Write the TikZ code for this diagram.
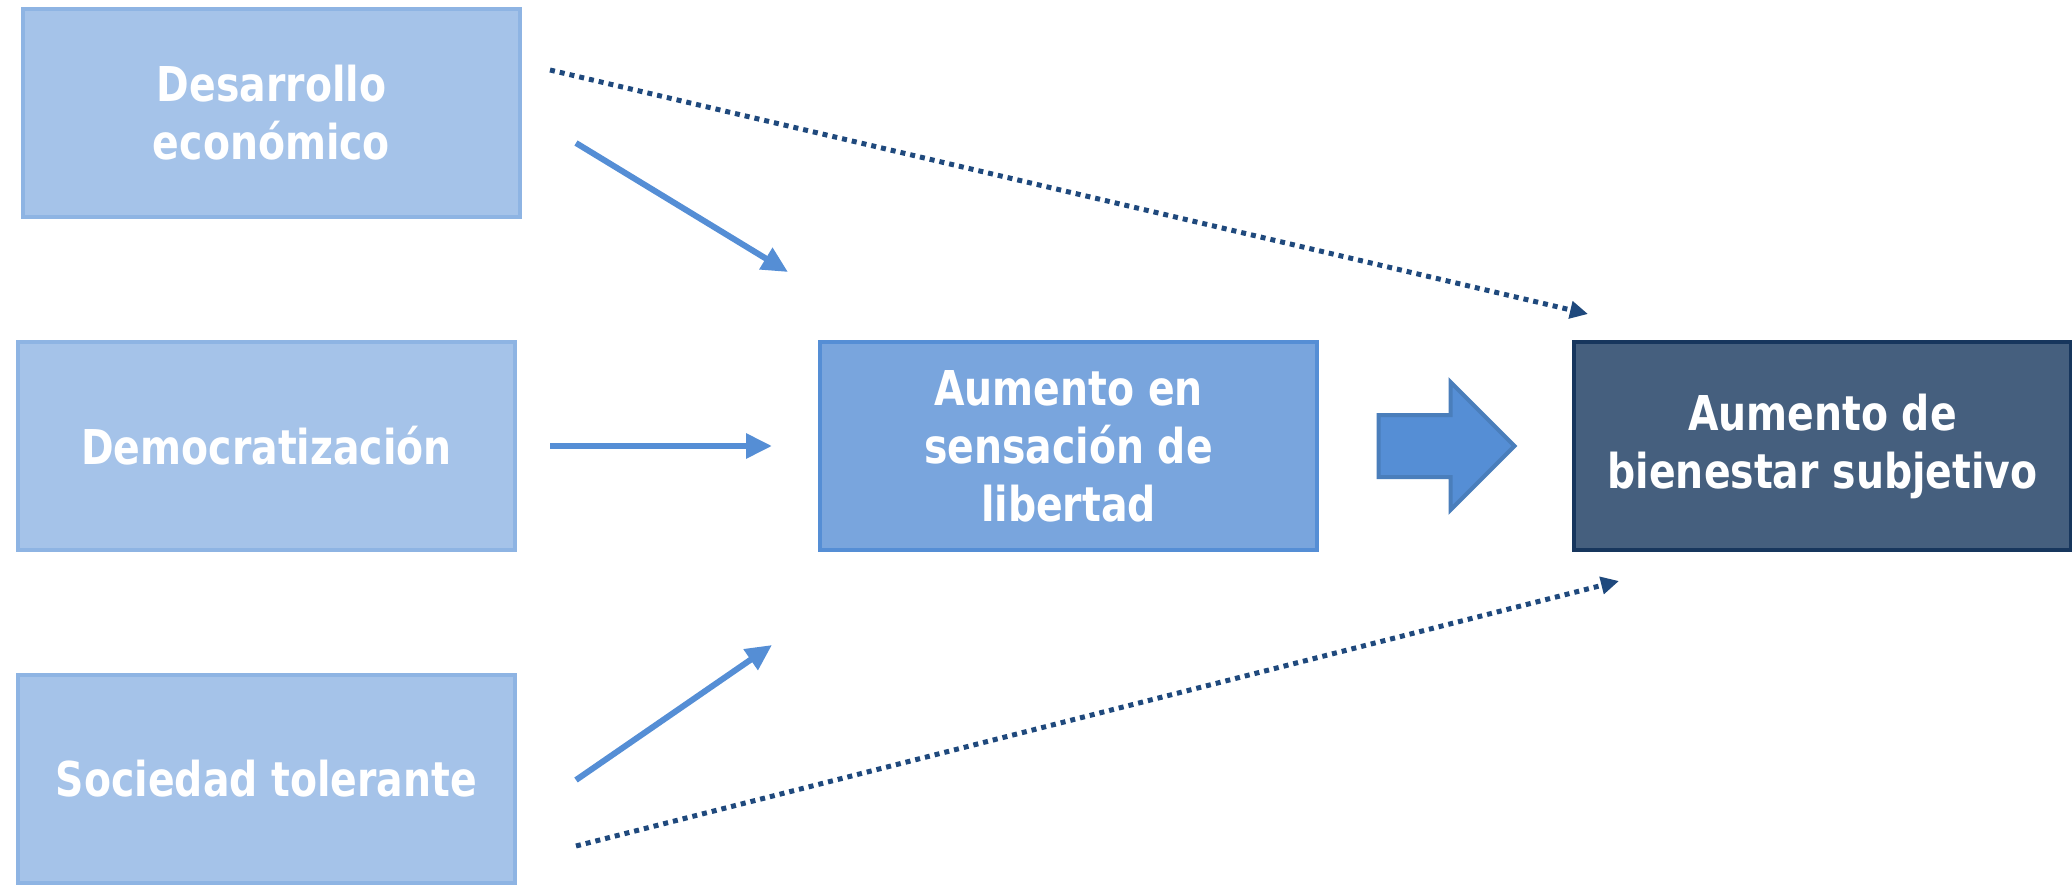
\documentclass[tikz,border=0pt]{standalone}
\usepackage{fontspec}
\setmainfont{DejaVu Sans}[FakeStretch=0.82]
\usepackage{tikz}
\usetikzlibrary{calc,arrows.meta,shapes.arrows}
\definecolor{lightfill}{HTML}{A5C3E9}
\definecolor{lightline}{HTML}{8EB4E3}
\definecolor{midfill}{HTML}{79A5DD}
\definecolor{midline}{HTML}{558ED5}
\definecolor{darkfill}{HTML}{455F7E}
\definecolor{darkline}{HTML}{17365D}
\definecolor{dotline}{HTML}{1F497D}
\definecolor{bigline}{HTML}{4A7EBB}
\tikzset{
  box/.style      = {shape=rectangle, draw, line width=4pt, align=center,
                     minimum width=497pt, minimum height=208pt,
                     text=white, font=\bfseries\fontsize{48}{58}\selectfont},
  cause/.style    = {box, fill=lightfill, draw=lightline},
  middle/.style   = {box, fill=midfill, draw=midline},
  result/.style   = {box, fill=darkfill, draw=darkline},
  push/.style     = {draw=midline, line width=6pt,
                     -{Triangle[length=26pt,width=24pt]}},
  direct/.style   = {draw=dotline, line width=5pt, dash pattern=on 5pt off 5pt,
                     -{Triangle[length=18pt,width=17pt]}},
}
\begin{document}
\begin{tikzpicture}[x=1pt, y=-1pt]
  \clip (0,0) rectangle (2072,885);
  \node [cause]  (econ) at (271.5,113) {Desarrollo\\económico};
  \node [cause]  (demo) at (266.5,446) {Democratización};
  \node [cause]  (soc)  at (266.5,779) {Sociedad tolerante};
  \node [middle] (lib)  at (1068.5,446) {Aumento en\\sensación de\\libertad};
  \node [result] (bien) at (1822.5,446) {Aumento de\\bienestar subjetivo};
  \node [single arrow, draw=bigline, fill=midline, line width=4pt,
         minimum height=136pt, inner xsep=0pt, inner ysep=29pt,
         single arrow head extend=33pt, single arrow tip angle=90]
        (big) at (1431,446) {};
  % free ends of the connectors
  \coordinate (econ out) at ($(econ.east)+(54,30)$);
  \coordinate (lib in1)  at ($(lib.north west)+(-30,-68)$);
  \coordinate (soc out)  at ($(soc.east)+(59,1)$);
  \coordinate (lib in3)  at ($(lib.south west)+(-46,93)$);
  \coordinate (econ dir) at ($(econ.north east)+(28,63)$);
  \coordinate (bien in1) at ($(bien.north west)+(16,-26)$);
  \coordinate (soc dir)  at ($(soc.east)+(59,67)$);
  \coordinate (bien in2) at ($(bien.south west)+(47,29)$);
  \draw [push] (econ out) -- (lib in1);
  \draw [push, shorten <=33pt, shorten >=46pt] (demo.east) -- (lib.west);
  \draw [push] (soc out) -- (lib in3);
  \draw [direct] (econ dir) -- (bien in1);
  \draw [direct] (soc dir) -- (bien in2);
\end{tikzpicture}
\end{document}
